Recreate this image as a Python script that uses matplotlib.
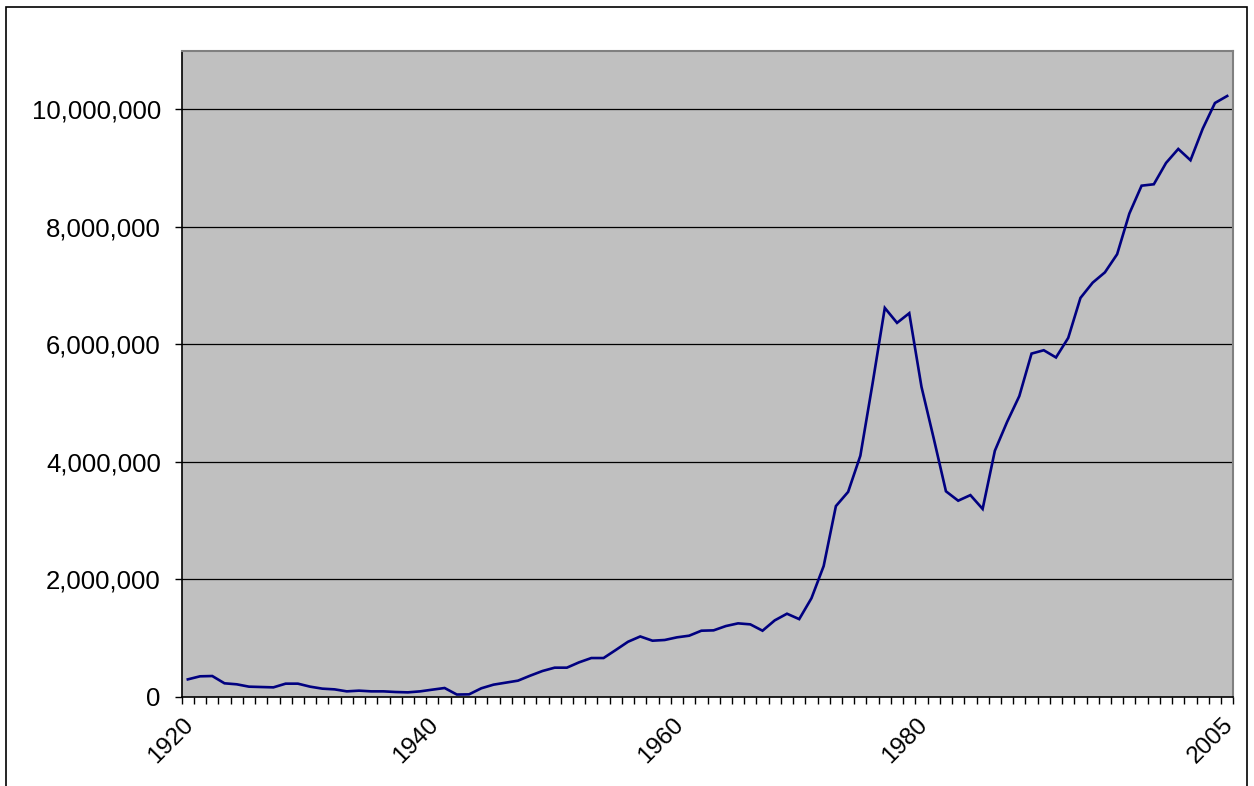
import matplotlib
matplotlib.use("Agg")
import matplotlib.pyplot as plt
import matplotlib.transforms as mtransforms
import numpy as np
from matplotlib.patches import Rectangle
from matplotlib.ticker import FuncFormatter

plt.rcParams["font.family"] = ["Liberation Sans", "DejaVu Sans"]

# one value per year, 1920-2005
years = list(range(1920, 2006))
values = [
    300000, 352000, 357000, 233000, 216000, 176000, 170000, 164000, 227000, 227000,
    176000, 142000, 130000, 96000, 108000, 96000, 96000, 85000, 79000, 96000,
    125000, 153000, 42000, 45000, 148000, 210000, 244000, 278000, 363000, 442000,
    499000, 499000, 590000, 663000, 663000, 800000, 940000, 1030000, 958000, 970000,
    1015000, 1043000, 1128000, 1134000, 1207000, 1253000, 1236000, 1128000, 1304000, 1417000,
    1325000, 1680000, 2228000, 3248000, 3490000, 4105000, 5335000, 6620000, 6366000, 6530000,
    5277000, 4400000, 3500000, 3340000, 3435000, 3200000, 4190000, 4680000, 5120000, 5843000,
    5900000, 5777000, 6110000, 6790000, 7050000, 7225000, 7534000, 8226000, 8700000, 8724000,
    9087000, 9325000, 9133000, 9670000, 10107000, 10226000,
]
labelled_years = [1920, 1940, 1960, 1980, 2005]

W, H = 1254, 786
fig = plt.figure(figsize=(W / 100, H / 100), dpi=100)
fig.patch.set_facecolor("white")

# outer chart-area frame
fig.patches.append(Rectangle((6 / W, -0.01), (1247 - 6) / W, 1 - 7 / H + 0.01,
                             transform=fig.transFigure, fill=False,
                             edgecolor="black", linewidth=1.2))

left, right, top, bottom = 181.7, 1233.3, 50.5, 697
ax = fig.add_axes([left / W, 1 - bottom / H, (right - left) / W, (bottom - top) / H])
ax.set_facecolor("#C0C0C0")

x = np.arange(len(years))
ax.plot(x, values, color="#000080", linewidth=1.9, solid_joinstyle="miter")

ax.set_xlim(-0.5, len(years) - 0.5)
ax.set_ylim(0, 11000000)

yt = np.arange(0, 10000001, 2000000)
ax.set_yticks(yt)
ax.yaxis.set_major_formatter(FuncFormatter(lambda v, p: f"{int(v):,}"))
for v in yt[1:]:
    ax.axhline(v, color="black", linewidth=0.9, zorder=1)

# category boundary ticks, labels only on a few years
ax.set_xticks(np.arange(len(years) + 1) - 0.5, minor=True)
ax.set_xticks([years.index(y) for y in labelled_years])
ax.set_xticklabels([str(y) for y in labelled_years], rotation=45,
                   ha="right", va="top", rotation_mode="anchor")
ax.tick_params(axis="x", which="major", length=0, pad=12, labelsize=17.5)
ax.tick_params(axis="x", which="minor", length=5, width=1, direction="out")
ax.tick_params(axis="y", length=5, width=1, direction="out", pad=10, labelsize=18.5)

shift = mtransforms.ScaledTranslation(-5 / 100, 0, fig.dpi_scale_trans)
for lab in ax.get_xticklabels():
    lab.set_transform(lab.get_transform() + shift)

for side in ["top", "right"]:
    ax.spines[side].set_color("#808080")
    ax.spines[side].set_linewidth(1.5)
for side in ["left", "bottom"]:
    ax.spines[side].set_color("black")
    ax.spines[side].set_linewidth(1.2)

fig.savefig("out.png", dpi=100, facecolor="white")
